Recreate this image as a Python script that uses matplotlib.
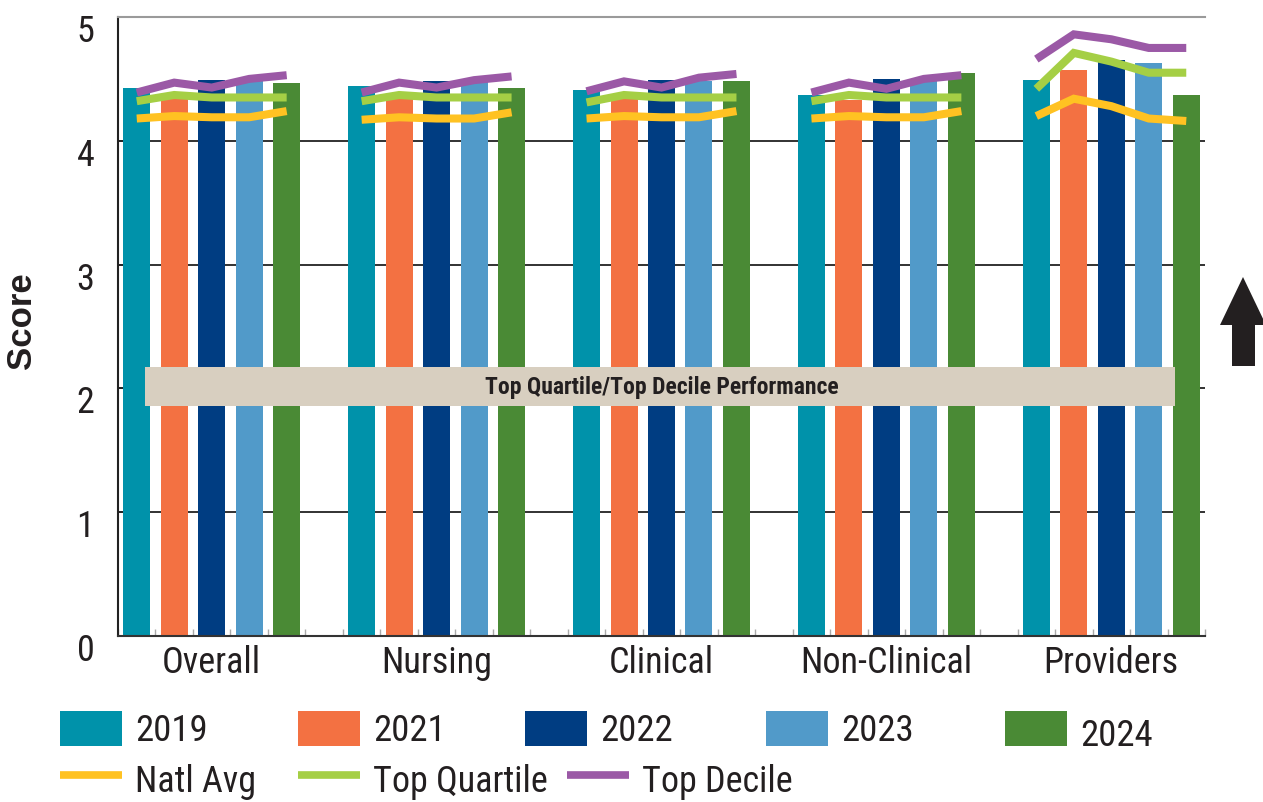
import matplotlib
matplotlib.use("Agg")
import matplotlib.pyplot as plt
import matplotlib.transforms as mtransforms
from matplotlib.patches import Rectangle, Polygon
from matplotlib.lines import Line2D
import numpy as np

NARROW = ["Liberation Sans Narrow", "Arial Narrow", "Roboto Condensed",
          "DejaVu Sans Condensed", "Liberation Sans", "DejaVu Sans"]
plt.rcParams["font.family"] = NARROW
plt.rcParams["font.stretch"] = "condensed"

categories = ["Overall", "Nursing", "Clinical", "Non-Clinical", "Providers"]
years = ["2019", "2021", "2022", "2023", "2024"]

# bar scores per survey year, one value per category
score_2019 = [4.43, 4.44, 4.41, 4.37, 4.49]
score_2021 = [4.35, 4.35, 4.35, 4.33, 4.57]
score_2022 = [4.49, 4.48, 4.49, 4.50, 4.65]
score_2023 = [4.48, 4.48, 4.48, 4.48, 4.63]
score_2024 = [4.47, 4.43, 4.48, 4.55, 4.37]

# benchmark lines per category, one value per year
natl_avg = [
    [4.18, 4.20, 4.19, 4.19, 4.24],
    [4.17, 4.19, 4.18, 4.18, 4.23],
    [4.18, 4.20, 4.19, 4.19, 4.24],
    [4.18, 4.20, 4.19, 4.19, 4.24],
    [4.20, 4.34, 4.28, 4.18, 4.16],
]
top_quartile = [
    [4.32, 4.37, 4.35, 4.35, 4.35],
    [4.32, 4.37, 4.35, 4.35, 4.35],
    [4.31, 4.37, 4.35, 4.35, 4.35],
    [4.32, 4.37, 4.35, 4.35, 4.35],
    [4.42, 4.71, 4.64, 4.55, 4.55],
]
top_decile = [
    [4.39, 4.47, 4.43, 4.50, 4.53],
    [4.39, 4.47, 4.43, 4.49, 4.52],
    [4.40, 4.48, 4.43, 4.51, 4.54],
    [4.39, 4.47, 4.42, 4.50, 4.53],
    [4.66, 4.86, 4.82, 4.75, 4.75],
]

yticks = [0, 1, 2, 3, 4, 5]
band_label = "Top Quartile/Top Decile Performance"
band_low, band_high = 1.86, 2.17

bar_colors = ["#0092AA", "#F37142", "#003D82", "#519AC9", "#4A8A35"]
line_colors = {"Natl Avg": "#FFC222", "Top Quartile": "#A5CF45", "Top Decile": "#9B59A6"}
ink = "#231F20"

W, H = 1263, 803
fig = plt.figure(figsize=(W / 100, H / 100), dpi=100)
ax = fig.add_axes([118 / W, 1 - 637 / H, (1205 - 118) / W, (637 - 18) / H])

group_step = 6
centers = np.arange(len(categories)) * group_step
offsets = np.arange(len(years)) - 2
series = [score_2019, score_2021, score_2022, score_2023, score_2024]

for k, vals in enumerate(series):
    ax.bar(centers + offsets[k], vals, width=0.72, color=bar_colors[k], zorder=2)

for i, c in enumerate(centers):
    xs = c + offsets
    for name, data in (("Natl Avg", natl_avg), ("Top Quartile", top_quartile),
                       ("Top Decile", top_decile)):
        ax.plot(xs, data[i], color=line_colors[name], lw=5.8,
                solid_capstyle="butt", solid_joinstyle="miter", zorder=3)

# performance band across the chart
ax.add_patch(Rectangle((-1.78, band_low), 27.48, band_high - band_low,
                       facecolor="#D8CFC0", edgecolor="none", zorder=4))
ax.text(12.0, (band_low + band_high) / 2, band_label, ha="center", va="center",
        fontsize=17, fontweight="bold", color=ink, zorder=5)

ax.set_xlim(-2.5, centers[-1] + 2.5)
ax.set_ylim(0, 5)
for y in yticks[1:-1]:
    ax.axhline(y, color="#222222", lw=1.3, zorder=1)

ax.spines["right"].set_visible(False)
ax.spines["top"].set_color("#9a9a9a")
ax.spines["top"].set_linewidth(1.5)
ax.spines["left"].set_color("#222222")
ax.spines["left"].set_linewidth(1.5)
ax.spines["bottom"].set_color("#333333")
ax.spines["bottom"].set_linewidth(1.5)

ax.set_xticks(centers)
ax.set_xticklabels(categories, fontsize=26, color=ink)
ax.set_xticks([c + o for c in centers for o in np.arange(-2.5, 3)], minor=True)
ax.tick_params(axis="x", which="major", length=0, pad=6)
ax.tick_params(axis="x", which="minor", direction="in", length=5, width=1,
               color="#aaaaaa")

ax.set_yticks(yticks)
ax.set_yticklabels([str(v) for v in yticks], fontsize=26, color=ink)
ax.tick_params(axis="y", direction="in", length=4, width=1.2, pad=17,
               color="#222222")
shift = mtransforms.ScaledTranslation(0, -10 / 100, fig.dpi_scale_trans)
for lab in ax.get_yticklabels():
    lab.set_transform(lab.get_transform() + shift)

fig.text(22 / W, 1 - 321 / H, "Score", rotation=90, ha="center", va="center",
         fontsize=25, fontweight="bold", family=["Liberation Sans", "DejaVu Sans"],
         stretch="normal", color=ink)

# up arrow on the right margin
arrow = [(1232, 367), (1232, 326), (1220, 326), (1243, 278), (1266, 326),
         (1255, 326), (1255, 367)]
fig.add_artist(Polygon([(x / W, 1 - y / H) for x, y in arrow], closed=True,
                       transform=fig.transFigure, facecolor=ink,
                       edgecolor="none"))

# legend, drawn in figure pixels
def fx(x):
    return x / W


def fy(y):
    return 1 - y / H


swatch_x = [60, 298, 525, 766, 1005]
for k, yr in enumerate(years):
    x0 = swatch_x[k]
    fig.add_artist(Rectangle((fx(x0), fy(747)), 62 / W, 35 / H,
                             transform=fig.transFigure, facecolor=bar_colors[k],
                             edgecolor="none"))
    ty = 731 if k < 4 else 736
    fig.text(fx(x0 + 75), fy(ty), yr, ha="left", va="center", fontsize=26.5,
             color=ink)

line_x = [60, 298, 567]
for x0, name in zip(line_x, line_colors):
    fig.add_artist(Line2D([fx(x0), fx(x0 + 62)], [fy(776), fy(776)],
                          transform=fig.transFigure, color=line_colors[name],
                          lw=5.5, solid_capstyle="butt"))
    fig.text(fx(x0 + 75), fy(782), name, ha="left", va="center", fontsize=26,
             color=ink)

fig.savefig("out.png", dpi=100)
